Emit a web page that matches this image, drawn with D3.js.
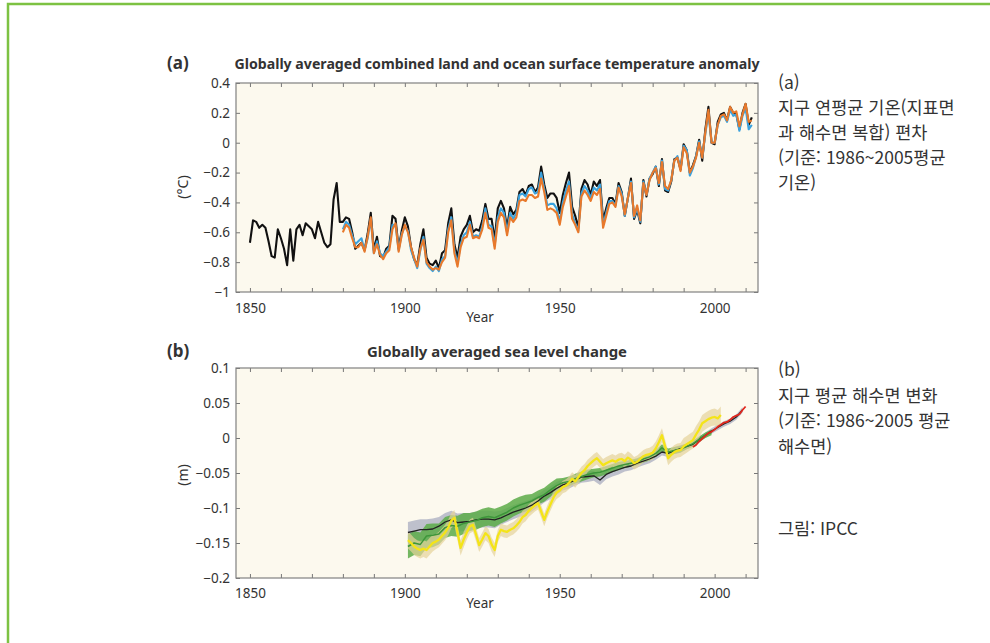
<!DOCTYPE html>
<html lang="ko">
<head>
  <meta charset="utf-8" />
  <title>IPCC 기온 편차와 해수면 변화</title>
  <script src="https://d3js.org/d3.v7.min.js"></script>
  <style>
    body { margin: 0; background: #fff; }
    svg text { font-family: "Noto Sans", "DejaVu Sans", sans-serif; fill: #333; }
    svg text.ko { font-family: "Noto Sans CJK KR", sans-serif; fill: #333; }
  </style>
</head>
<body>
  <div id="chart"></div>
  <script>
    /* (a) temperature anomaly, deg C, relative to 1986-2005 */
    var hadYears = d3.range(1850, 2013);
    var hadcrut = [
      -0.67,-0.52,-0.53,-0.57,-0.55,-0.57,-0.66,-0.76,-0.77,-0.58,
      -0.64,-0.71,-0.82,-0.58,-0.79,-0.58,-0.55,-0.62,-0.54,-0.56,
      -0.58,-0.64,-0.53,-0.60,-0.67,-0.70,-0.68,-0.38,-0.27,-0.53,
      -0.53,-0.50,-0.51,-0.60,-0.71,-0.69,-0.67,-0.72,-0.61,-0.47,
      -0.72,-0.63,-0.76,-0.77,-0.71,-0.69,-0.49,-0.51,-0.71,-0.59,
      -0.50,-0.56,-0.70,-0.78,-0.82,-0.68,-0.58,-0.77,-0.81,-0.82,
      -0.79,-0.84,-0.74,-0.72,-0.54,-0.44,-0.68,-0.77,-0.63,-0.58,
      -0.55,-0.49,-0.60,-0.58,-0.59,-0.52,-0.41,-0.51,-0.51,-0.65,
      -0.44,-0.39,-0.44,-0.57,-0.43,-0.48,-0.45,-0.33,-0.31,-0.35,
      -0.29,-0.28,-0.33,-0.30,-0.16,-0.28,-0.37,-0.34,-0.34,-0.37,
      -0.47,-0.35,-0.27,-0.20,-0.43,-0.49,-0.57,-0.31,-0.25,-0.28,
      -0.35,-0.26,-0.29,-0.25,-0.52,-0.44,-0.37,-0.37,-0.41,-0.27,
      -0.33,-0.49,-0.37,-0.24,-0.51,-0.45,-0.54,-0.25,-0.36,-0.24,
      -0.21,-0.16,-0.29,-0.11,-0.32,-0.33,-0.26,-0.11,-0.10,-0.18,
      -0.01,-0.05,-0.20,-0.15,-0.09,0.02,-0.12,0.09,0.24,0.00,
      -0.01,0.14,0.19,0.20,0.15,0.24,0.20,0.19,0.09,0.20,
      0.26,0.12,0.17
    ];
    var obsYears = d3.range(1880, 2013);
    var giss = [
      -0.58,-0.53,-0.55,-0.62,-0.68,-0.66,-0.64,-0.72,-0.64,-0.51,
      -0.74,-0.66,-0.74,-0.76,-0.73,-0.70,-0.55,-0.55,-0.72,-0.61,
      -0.56,-0.59,-0.72,-0.78,-0.84,-0.72,-0.63,-0.81,-0.84,-0.86,
      -0.83,-0.86,-0.78,-0.76,-0.58,-0.50,-0.72,-0.81,-0.68,-0.62,
      -0.60,-0.53,-0.63,-0.62,-0.63,-0.56,-0.44,-0.55,-0.56,-0.69,
      -0.50,-0.44,-0.47,-0.60,-0.47,-0.51,-0.47,-0.35,-0.34,-0.36,
      -0.31,-0.30,-0.34,-0.33,-0.20,-0.31,-0.42,-0.41,-0.41,-0.44,
      -0.53,-0.40,-0.32,-0.26,-0.48,-0.54,-0.59,-0.34,-0.29,-0.32,
      -0.37,-0.30,-0.32,-0.28,-0.55,-0.47,-0.39,-0.39,-0.42,-0.29,
      -0.34,-0.49,-0.37,-0.26,-0.50,-0.44,-0.53,-0.26,-0.35,-0.24,
      -0.20,-0.16,-0.28,-0.12,-0.31,-0.32,-0.25,-0.12,-0.09,-0.18,
      -0.02,-0.05,-0.22,-0.17,-0.09,0.01,-0.10,0.06,0.20,0.00,
      0.00,0.12,0.17,0.18,0.14,0.22,0.18,0.19,0.08,0.18,
      0.23,0.09,0.12
    ];
    var noaa = [
      -0.60,-0.55,-0.57,-0.64,-0.70,-0.70,-0.67,-0.73,-0.63,-0.50,
      -0.74,-0.68,-0.75,-0.78,-0.74,-0.72,-0.58,-0.54,-0.73,-0.62,
      -0.55,-0.60,-0.70,-0.77,-0.83,-0.71,-0.65,-0.80,-0.83,-0.85,
      -0.84,-0.85,-0.80,-0.77,-0.60,-0.52,-0.74,-0.83,-0.70,-0.64,
      -0.63,-0.55,-0.64,-0.63,-0.64,-0.58,-0.47,-0.57,-0.58,-0.71,
      -0.53,-0.47,-0.50,-0.62,-0.50,-0.53,-0.50,-0.39,-0.38,-0.39,
      -0.35,-0.35,-0.37,-0.36,-0.24,-0.33,-0.45,-0.44,-0.45,-0.47,
      -0.55,-0.43,-0.36,-0.29,-0.51,-0.55,-0.60,-0.36,-0.32,-0.35,
      -0.39,-0.33,-0.35,-0.31,-0.57,-0.49,-0.41,-0.40,-0.43,-0.30,
      -0.36,-0.48,-0.37,-0.27,-0.49,-0.42,-0.52,-0.27,-0.35,-0.25,
      -0.20,-0.17,-0.27,-0.13,-0.29,-0.31,-0.25,-0.12,-0.10,-0.19,
      -0.03,-0.07,-0.20,-0.16,-0.10,0.00,-0.10,0.07,0.22,0.00,
      0.00,0.12,0.18,0.19,0.15,0.24,0.20,0.21,0.11,0.19,
      0.26,0.14,0.15
    ];

    /* (b) sea level change, m, relative to 1986-2005 */
    var yellowYears = d3.range(1901, 2003);
    var seaYellow = [
      -0.146,-0.150,-0.155,-0.158,-0.160,-0.158,-0.160,-0.155,-0.150,-0.148,
      -0.145,-0.140,-0.135,-0.128,-0.118,-0.114,-0.135,-0.157,-0.145,-0.135,
      -0.126,-0.124,-0.138,-0.153,-0.145,-0.136,-0.140,-0.152,-0.160,-0.140,
      -0.131,-0.133,-0.134,-0.131,-0.129,-0.125,-0.120,-0.113,-0.110,-0.104,
      -0.100,-0.096,-0.093,-0.105,-0.117,-0.105,-0.095,-0.085,-0.078,-0.075,
      -0.070,-0.068,-0.064,-0.058,-0.062,-0.056,-0.050,-0.046,-0.040,-0.036,
      -0.032,-0.029,-0.034,-0.039,-0.036,-0.034,-0.032,-0.034,-0.031,-0.030,
      -0.033,-0.028,-0.031,-0.036,-0.034,-0.030,-0.026,-0.024,-0.023,-0.021,
      -0.015,-0.006,0.004,-0.012,-0.029,-0.024,-0.020,-0.018,-0.017,-0.012,
      -0.009,-0.006,-0.003,0.005,0.012,0.021,0.024,0.027,0.029,0.030,
      0.028,0.033
    ];
    var greenYears = d3.range(1901, 2000, 2);
    var seaGreen = [
      -0.155,-0.150,-0.152,-0.140,-0.139,-0.137,-0.128,-0.125,-0.126,-0.122,
      -0.120,-0.118,-0.114,-0.112,-0.114,-0.110,-0.106,-0.100,-0.096,-0.093,
      -0.090,-0.085,-0.081,-0.074,-0.068,-0.064,-0.062,-0.058,-0.055,-0.052,
      -0.050,-0.049,-0.046,-0.043,-0.040,-0.038,-0.036,-0.034,-0.030,-0.027,
      -0.022,-0.014,-0.020,-0.018,-0.016,-0.012,-0.008,-0.002,0.004,0.008
    ];
    var blackYears = d3.range(1901, 2010, 2);
    var seaBlack = [
      -0.135,-0.133,-0.131,-0.131,-0.130,-0.126,-0.120,-0.117,-0.121,-0.120,
      -0.119,-0.117,-0.116,-0.116,-0.117,-0.114,-0.110,-0.106,-0.103,-0.100,
      -0.096,-0.090,-0.083,-0.078,-0.072,-0.067,-0.064,-0.060,-0.056,-0.055,
      -0.054,-0.060,-0.052,-0.048,-0.045,-0.042,-0.040,-0.036,-0.033,-0.030,
      -0.026,-0.020,-0.022,-0.018,-0.015,-0.012,-0.009,-0.002,0.004,0.010,
      0.015,0.020,0.024,0.030,0.040
    ];
    var redYears = d3.range(1993, 2011);
    var seaRed = [
      -0.013,-0.010,-0.005,-0.001,0.003,0.007,0.009,0.012,0.016,0.019,
      0.022,0.023,0.026,0.030,0.032,0.034,0.040,0.045
    ];
    // half width of the shaded uncertainty, one value per decade from 1900
    var yellowUnc = [0.012, 0.011, 0.010, 0.009, 0.009, 0.009, 0.009, 0.009, 0.010, 0.012, 0.012];
    var greenUnc  = [0.017, 0.015, 0.013, 0.012, 0.010, 0.007, 0.006, 0.005, 0.005, 0.004, 0.004];
    var blackUnc  = [0.015, 0.013, 0.012, 0.010, 0.009, 0.008, 0.007, 0.006, 0.005, 0.004, 0.004];

    var tempTicks = [0.4, 0.2, 0, -0.2, -0.4, -0.6, -0.8, -1];
    var seaTicks = [0.1, 0.05, 0, -0.05, -0.1, -0.15, -0.2];
    var yearTicks = d3.range(1850, 2011, 10);
    var yearLabels = [1850, 1900, 1950, 2000];

    var noteA = ["(a)", "지구 연평균 기온(지표면", "과 해수면 복합) 편차", "(기준: 1986~2005평균", "기온)"];
    var noteB = ["(b)", "지구 평균 해수면 변화", "(기준: 1986~2005 평균", "해수면)"];

    // create svg element
    var svg = d3.select("#chart")
                .append("svg")
                .attr("width", 990)
                .attr("height", 643);

    svg.append("rect").attr("width", 990).attr("height", 643).attr("fill", "#fff");
    svg.append("path")
       .attr("d", "M8,643V4H990")
       .attr("fill", "none")
       .attr("stroke", "#7dc242")
       .attr("stroke-width", 2.5);

    var x = d3.scaleLinear().domain([1845.5, 2014]).range([236, 758]);
    var yA = d3.scaleLinear().domain([-1, 0.4]).range([292, 83]);
    var yB = d3.scaleLinear().domain([-0.2, 0.1]).range([578, 368]);

    function background(y) {
      svg.append("rect")
         .attr("x", x.range()[0]).attr("y", y.range()[1])
         .attr("width", x.range()[1] - x.range()[0])
         .attr("height", y.range()[0] - y.range()[1])
         .attr("fill", "#fcf9ee");
    }

    function axes(y, ticks, pad) {
      var top = y.range()[1], bottom = y.range()[0];
      var fmt = d3.format("~g");
      var gs = [];
      gs.push(svg.append("g").attr("transform", "translate(0," + bottom + ")")
        .call(d3.axisBottom(x).tickValues(yearTicks).tickSize(-4).tickPadding(pad)
          .tickFormat(function(d) { return yearLabels.indexOf(d) >= 0 ? d : ""; })));
      gs.push(svg.append("g").attr("transform", "translate(0," + top + ")")
        .call(d3.axisTop(x).tickValues(yearTicks).tickSize(-4).tickFormat("")));
      gs.push(svg.append("g").attr("transform", "translate(" + x.range()[0] + ",0)")
        .call(d3.axisLeft(y).tickValues(ticks).tickSize(-4).tickPadding(6).tickFormat(fmt)));
      gs.push(svg.append("g").attr("transform", "translate(" + x.range()[1] + ",0)")
        .call(d3.axisRight(y).tickValues(ticks).tickSize(-4).tickFormat("")));
      gs.forEach(function(g) {
        g.attr("font-size", 13.5).attr("font-family", null);
        g.select(".domain").remove();
        g.selectAll("line").attr("stroke", "#777");
        g.selectAll("text").attr("fill", "#333");
      });
      svg.append("rect")
         .attr("x", x.range()[0]).attr("y", top)
         .attr("width", x.range()[1] - x.range()[0])
         .attr("height", bottom - top)
         .attr("fill", "none")
         .attr("stroke", "#808080")
         .attr("stroke-width", 1.2);
    }

    /* panel (a) */
    background(yA);
    var lineA = d3.line()
                  .x(function(d) { return x(d[0]); })
                  .y(function(d) { return yA(d[1]); });
    svg.append("path").datum(d3.zip(hadYears, hadcrut))
       .attr("d", lineA).attr("fill", "none").attr("stroke", "#111")
       .attr("stroke-width", 2.1).attr("stroke-linejoin", "round");
    svg.append("path").datum(d3.zip(obsYears, giss))
       .attr("d", lineA).attr("fill", "none").attr("stroke", "#3aa2de")
       .attr("stroke-width", 2.1).attr("stroke-linejoin", "round");
    svg.append("path").datum(d3.zip(obsYears, noaa))
       .attr("d", lineA).attr("fill", "none").attr("stroke", "#e8792b")
       .attr("stroke-width", 2.1).attr("stroke-linejoin", "round");
    axes(yA, tempTicks, 11);

    /* panel (b) */
    background(yB);
    function band(years, vals, unc, color, op) {
      var area = d3.area()
                   .x(function(d) { return x(d[0]); })
                   .y0(function(d) { return yB(d[1] - unc[Math.floor((d[0] - 1900) / 10)]); })
                   .y1(function(d) { return yB(d[1] + unc[Math.floor((d[0] - 1900) / 10)]); });
      svg.append("path").datum(d3.zip(years, vals))
         .attr("d", area).attr("fill", color).attr("opacity", op);
    }
    function seaLine(years, vals, color, w) {
      var line = d3.line()
                   .x(function(d) { return x(d[0]); })
                   .y(function(d) { return yB(d[1]); });
      svg.append("path").datum(d3.zip(years, vals))
         .attr("d", line).attr("fill", "none").attr("stroke", color)
         .attr("stroke-width", w).attr("stroke-linejoin", "round");
    }
    band(blackYears, seaBlack, blackUnc, "#b3b6c6", 0.85);
    band(greenYears, seaGreen, greenUnc, "#5cab48", 0.85);
    band(yellowYears, seaYellow, yellowUnc, "#e6d39a", 0.7);
    seaLine(blackYears, seaBlack, "#222", 1.3);
    seaLine(greenYears, seaGreen, "#3d963a", 1.5);
    seaLine(yellowYears, seaYellow, "#f4e418", 2.3);
    seaLine(redYears, seaRed, "#e1261c", 1.8);
    axes(yB, seaTicks, 10);

    /* titles and axis names */
    function label(t, xx, yy, size, weight, anchor) {
      return svg.append("text").attr("x", xx).attr("y", yy)
                .attr("font-size", size).attr("font-weight", weight)
                .attr("text-anchor", anchor).text(t);
    }
    label("(a)", 167, 69, 17, "bold", "start");
    label("Globally averaged combined land and ocean surface temperature anomaly", 497, 69, 14, "bold", "middle")
      .attr("textLength", 525).attr("lengthAdjust", "spacingAndGlyphs");
    label("(b)", 167, 357, 17, "bold", "start");
    label("Globally averaged sea level change", 497, 357, 14, "bold", "middle")
      .attr("textLength", 260).attr("lengthAdjust", "spacingAndGlyphs");
    label("Year", 480, 322, 13.5, "normal", "middle");
    label("Year", 480, 608, 13.5, "normal", "middle");
    label("(°C)", 0, 0, 14, "normal", "middle").attr("transform", "translate(188,187) rotate(-90)");
    label("(m)", 0, 0, 14, "normal", "middle").attr("transform", "translate(188,475) rotate(-90)");

    /* Korean notes */
    noteA.forEach(function(t, i) {
      label(t, 778, 89 + i * 25, 17.5, "normal", "start").attr("class", "ko");
    });
    noteB.forEach(function(t, i) {
      label(t, 778, 376 + i * 25.5, 17.5, "normal", "start").attr("class", "ko");
    });
    label("그림: IPCC", 778, 535, 17.5, "normal", "start").attr("class", "ko");
  </script>
</body>
</html>
